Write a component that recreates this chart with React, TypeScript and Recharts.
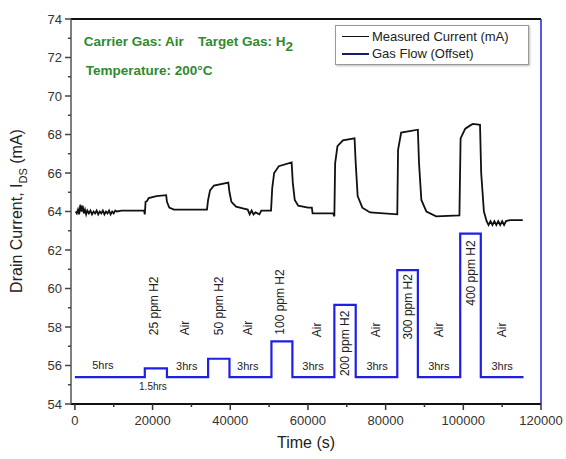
import {
  LineChart,
  Line,
  XAxis,
  YAxis,
  Legend,
  ReferenceDot,
  ReferenceLine,
} from 'recharts';

// measured drain current (mA) vs time (s)
const currentTime = [
  200, 500, 800, 1100, 1400, 1700, 2000, 2300, 2600, 2900, 3200, 3600, 4000, 4400, 4800, 5200, 5600,
  6000, 6400, 6800, 7200, 7600, 8000, 8400, 8800, 9200, 9600, 10000, 10400, 10800, 12000, 15000, 17800,
  18000, 18200, 18600, 19000, 21000, 23500, 23700, 24300, 25500, 34000, 34300, 34800, 35800, 39500,
  39800, 40300, 41500, 43500, 44500, 45000, 45500, 46000, 46500, 47500, 48000, 50500, 50800, 51300,
  52500, 55800, 56100, 56600, 57500, 60000, 61000, 61200, 66500, 66800, 67000, 67600, 69000, 72000,
  72300, 72800, 74000, 76000, 83000, 83200, 84000, 88300, 88600, 89200, 90500, 93000, 99000, 99300,
  100500, 102000, 102500, 104300, 104600, 105300, 106000, 106500, 107000, 107500, 108000, 108500,
  109000, 109500, 110000, 110500, 111000, 112000, 115300,
];
const currentValue = [
  64.0, 63.9, 64.1, 63.85, 64.35, 64.0, 64.3, 63.9, 64.1, 63.85, 64.05, 63.9, 64.05, 63.85, 64.0, 63.9,
  64.05, 63.85, 64.0, 63.9, 64.05, 63.85, 64.0, 63.9, 64.05, 63.85, 64.0, 63.9, 64.05, 64.0, 64.05,
  64.05, 64.05, 63.85, 64.5, 64.55, 64.7, 64.8, 64.85, 64.5, 64.2, 64.1, 64.1, 64.6, 65.1, 65.35, 65.5,
  65.0, 64.5, 64.25, 64.15, 64.1, 63.85, 64.05, 63.85, 63.95, 63.85, 64.05, 64.05, 65.2, 66.0, 66.35,
  66.55, 65.5, 64.6, 64.3, 64.2, 64.2, 63.9, 63.9, 63.75, 66.5, 67.4, 67.7, 67.8, 66.5, 64.8, 64.2,
  63.95, 63.85, 67.2, 68.1, 68.25, 66.5, 64.6, 64.0, 63.75, 63.8, 67.8, 68.3, 68.5, 68.55, 68.5, 66.0,
  64.0, 63.5, 63.3, 63.5, 63.3, 63.5, 63.3, 63.5, 63.3, 63.5, 63.3, 63.5, 63.55, 63.55, 63.6,
];

// gas flow step trace (offset onto current axis)
const flowTime = [0, 18000, 23700, 34300, 39800, 50600, 56000, 66800, 72300, 83000, 88300, 99200, 104500, 115500];
const flowValue = [55.4, 55.85, 55.4, 56.35, 55.4, 57.25, 55.4, 59.15, 55.4, 60.95, 55.4, 62.85, 55.4, 55.4];

const xTicks = [0, 10000, 20000, 30000, 40000, 50000, 60000, 70000, 80000, 90000, 100000, 110000, 120000];
const yTicks = [54, 55, 56, 57, 58, 59, 60, 61, 62, 63, 64, 65, 66, 67, 68, 69, 70, 71, 72, 73, 74];

// step labels: [text, time, current]
const stepLabels: [string, number, number][] = [
  ['25 ppm H2', 20300, 59.1],
  ['Air', 28300, 57.95],
  ['50 ppm H2', 37100, 59.1],
  ['Air', 44550, 57.95],
  ['100 ppm H2', 52800, 59.3],
  ['Air', 62300, 57.85],
  ['200 ppm H2', 69500, 57.15],
  ['Air', 77500, 57.85],
  ['300 ppm H2', 85700, 59.05],
  ['Air', 93700, 57.85],
  ['400 ppm H2', 101900, 60.8],
  ['Air', 110000, 57.85],
];
const durationLabels: [string, number, number][] = [
  ['5hrs', 7200, 56.05],
  ['3hrs', 28800, 55.95],
  ['3hrs', 44500, 55.95],
  ['3hrs', 61300, 55.95],
  ['3hrs', 77800, 55.95],
  ['3hrs', 93700, 55.95],
  ['3hrs', 110000, 55.95],
  ['1.5hrs', 20100, 54.95],
];

const currentData = currentTime.map((t, i) => ({ t, v: currentValue[i] }));
const flowData = flowTime.map((t, i) => ({ t, v: flowValue[i] }));

const FONT = '"Liberation Sans", Arial, sans-serif';
const GREEN = '#2f8a2f';
const BLUE = '#1f1fe6';

const YTick = (props: any) => {
  const { x, y, payload } = props;
  const v = payload.value;
  const major = v % 2 === 0;
  const ax = x + 9;
  return (
    <g>
      <line x1={ax - (major ? 6 : 3)} x2={ax} y1={y} y2={y} stroke="#444" strokeWidth={1.5} />
      {major && (
        <text x={x} y={y} dy={4.5} textAnchor="end" fontSize={13} fill="#333" fontFamily={FONT}>
          {v}
        </text>
      )}
    </g>
  );
};

const XTick = (props: any) => {
  const { x, y, payload } = props;
  const v = payload.value;
  const major = v % 20000 === 0;
  const ay = y - 9;
  return (
    <g>
      <line x1={x} x2={x} y1={ay} y2={ay + (major ? 6 : 3)} stroke="#333" strokeWidth={1.5} />
      {major && (
        <text x={x} y={y} dy={12} textAnchor="middle" fontSize={13} fill="#333" fontFamily={FONT}>
          {v}
        </text>
      )}
    </g>
  );
};

const rotatedLabel = (text: string) => (props: any) => {
  const { viewBox } = props;
  const cx = viewBox.x + viewBox.width / 2;
  const cy = viewBox.y + viewBox.height / 2;
  return (
    <text
      x={cx}
      y={cy}
      dy={4}
      transform={`rotate(-90 ${cx} ${cy})`}
      textAnchor="middle"
      fontSize={12}
      fill="#222"
      fontFamily={FONT}
    >
      {text}
    </text>
  );
};

const flatLabel = (text: string, size: number) => (props: any) => {
  const { viewBox } = props;
  const cx = viewBox.x + viewBox.width / 2;
  const cy = viewBox.y + viewBox.height / 2;
  return (
    <text x={cx} y={cy} dy={4} textAnchor="middle" fontSize={size} fill="#222" fontFamily={FONT}>
      {text}
    </text>
  );
};

const greenLabel = (content: any) => (props: any) => {
  const { viewBox } = props;
  const cx = viewBox.x + viewBox.width / 2;
  const cy = viewBox.y + viewBox.height / 2;
  return (
    <text x={cx} y={cy} dy={4.5} textAnchor="start" fontSize={13.5} fontWeight="bold" fill={GREEN} fontFamily={FONT}>
      {content}
    </text>
  );
};

const YLabel = (props: any) => {
  const { viewBox } = props;
  const x = viewBox.x + 11;
  const y = 211;
  return (
    <text x={x} y={y} transform={`rotate(-90 ${x} ${y})`} textAnchor="middle" fontSize={16} fill="#222" fontFamily={FONT}>
      Drain Current, I
      <tspan fontSize={11} dy={5}>DS</tspan>
      <tspan dy={-5}> (mA)</tspan>
    </text>
  );
};

const XLabel = (props: any) => {
  const { viewBox } = props;
  return (
    <text x={306} y={viewBox.y + 44} textAnchor="middle" fontSize={16} fill="#222" fontFamily={FONT}>
      Time (s)
    </text>
  );
};

const LegendBox = () => (
  <div
    style={{
      border: '1px solid #999',
      boxShadow: '1px 1px 2px #bbb',
      background: '#fff',
      padding: '2px 6px',
      fontFamily: FONT,
      fontSize: 13,
      color: '#222',
      lineHeight: '17px',
    }}
  >
    <div style={{ display: 'flex', alignItems: 'center' }}>
      <span style={{ display: 'inline-block', width: 27, borderTop: '1.5px solid #111', marginRight: 3 }} />
      Measured Current (mA)
    </div>
    <div style={{ display: 'flex', alignItems: 'center' }}>
      <span style={{ display: 'inline-block', width: 27, borderTop: '2px solid #1a1a70', marginRight: 3 }} />
      Gas Flow (Offset)
    </div>
  </div>
);

export default function App() {
  return (
    <div style={{ position: 'absolute', left: 0, top: 0, background: '#fff' }}>
      <LineChart width={566} height={459} margin={{ top: 19, right: 25, bottom: 25, left: 11 }}>
        <XAxis
          dataKey="t"
          type="number"
          domain={[-1000, 120000]}
          ticks={xTicks}
          interval={0}
          tick={<XTick />}
          tickLine={false}
          tickSize={6}
          tickMargin={3}
          height={30}
          axisLine={{ stroke: '#111', strokeWidth: 2 }}
          label={<XLabel />}
        />
        <YAxis
          type="number"
          domain={[54, 74]}
          ticks={yTicks}
          interval={0}
          tick={<YTick />}
          tickLine={false}
          tickSize={6}
          tickMargin={3}
          width={60}
          axisLine={{ stroke: '#555', strokeWidth: 1.5 }}
          label={<YLabel />}
        />
        <ReferenceLine y={74} stroke="#111" strokeWidth={2} />
        <ReferenceLine x={120000} stroke={BLUE} strokeWidth={1.5} />
        <Line
          data={flowData}
          dataKey="v"
          type="stepAfter"
          stroke={BLUE}
          strokeWidth={2.2}
          dot={false}
          isAnimationActive={false}
          name="Gas Flow (Offset)"
        />
        <Line
          data={currentData}
          dataKey="v"
          type="linear"
          stroke="#111"
          strokeWidth={1.8}
          dot={false}
          isAnimationActive={false}
          name="Measured Current (mA)"
        />
        {stepLabels.map(([text, t, v], i) => (
          <ReferenceDot key={`s${i}`} x={t} y={v} r={1} fill="none" stroke="none" label={rotatedLabel(text)} />
        ))}
        {durationLabels.map(([text, t, v], i) => (
          <ReferenceDot
            key={`d${i}`}
            x={t}
            y={v}
            r={1}
            fill="none"
            stroke="none"
            label={flatLabel(text, text === '1.5hrs' ? 10 : 11)}
          />
        ))}
        <ReferenceDot x={2300} y={72.85} r={1} fill="none" stroke="none" label={greenLabel('Carrier Gas: Air')} />
        <ReferenceDot
          x={31700}
          y={72.85}
          r={1}
          fill="none"
          stroke="none"
          label={greenLabel(
            <>
              Target Gas: H<tspan dy={5} fontSize={13.5}>2</tspan>
            </>
          )}
        />
        <ReferenceDot x={2800} y={71.35} r={1} fill="none" stroke="none" label={greenLabel('Temperature: 200°C')} />
        <Legend
          layout="vertical"
          align="center"
          verticalAlign="middle"
          content={<LegendBox />}
          wrapperStyle={{ top: 25, left: 335, width: 194, height: 'auto' }}
        />
      </LineChart>
    </div>
  );
}
